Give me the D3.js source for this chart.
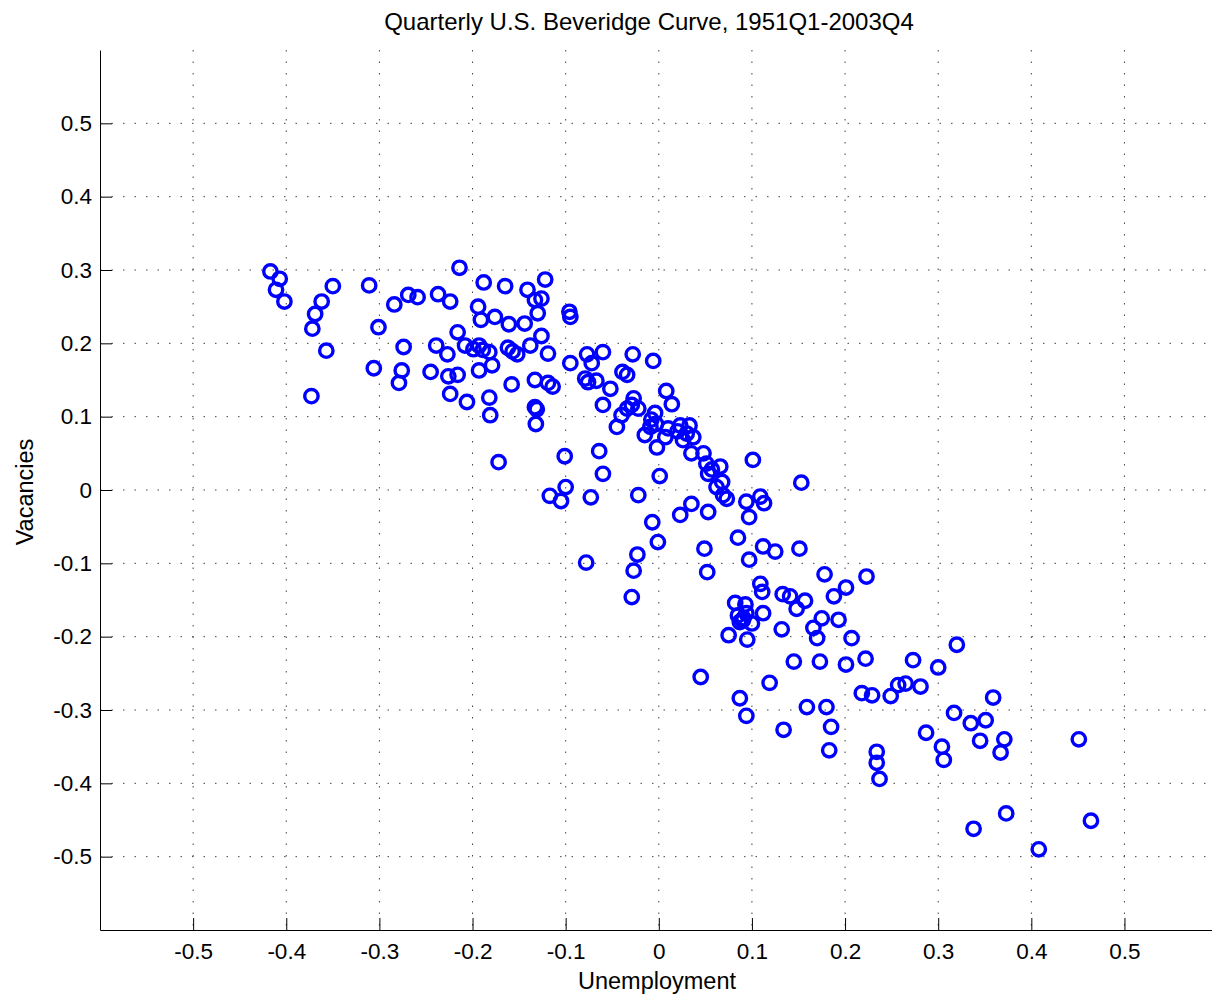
<!DOCTYPE html>
<html lang="en">
<head>
    <meta charset="UTF-8">
    <title>Quarterly U.S. Beveridge Curve</title>
    <style>
        body { margin: 0; background: #fff; }
        svg { display: block; font-family: 'Liberation Sans', Arial, Helvetica, sans-serif; }
        .tick text { font-size: 22.5px; fill: #000; }
        .grid line { stroke: #444; stroke-width: 1; stroke-dasharray: 1.5,10; }
        .pt { fill: none; stroke: #0000ff; stroke-width: 3.4; }
    </style>
    <script src="https://d3js.org/d3.v7.min.js"></script>
</head>
<body>
    <svg id="chart" width="1212" height="994"></svg>
    <script>
        // unemployment (x) and vacancies (y)
        const unemployment = [
            -0.417, -0.407, -0.411, -0.402, -0.350, -0.362, -0.369, -0.372, -0.357, -0.373,
            -0.311, -0.301, -0.306, -0.284, -0.269, -0.259, -0.237, -0.224, -0.214, -0.274,
            -0.276, -0.279, -0.245, -0.239, -0.227, -0.216, -0.208, -0.226, -0.216, -0.224,
            -0.206, -0.188, -0.165, -0.141, -0.122, -0.126, -0.133, -0.130, -0.194, -0.191,
            -0.176, -0.161, -0.144, -0.096, -0.095, -0.193, -0.189, -0.182, -0.199, -0.162,
            -0.157, -0.152, -0.138, -0.126, -0.119, -0.179, -0.193, -0.182, -0.158, -0.133,
            -0.119, -0.114, -0.133, -0.131, -0.181, -0.132, -0.095, -0.077, -0.072, -0.060,
            -0.028, -0.079, -0.076, -0.067, -0.052, -0.039, -0.034, -0.060, -0.006, 0.008,
            0.014, -0.027, -0.029, -0.022, -0.034, -0.040, -0.045, -0.004, -0.008, -0.015,
            -0.002, -0.009, 0.010, 0.007, 0.023, 0.033, 0.026, 0.037, 0.035, 0.030,
            0.048, 0.051, 0.066, 0.053, 0.068, 0.062, 0.069, 0.073, 0.101, 0.094,
            -0.101, -0.064, -0.060, 0.001, -0.100, -0.117, -0.105, -0.073, -0.022, 0.035,
            0.053, 0.023, -0.007, -0.172, -0.001, -0.078, -0.023, -0.027, -0.029, 0.153,
            0.109, 0.113, 0.097, 0.085, 0.112, 0.125, 0.151, 0.049, 0.097, 0.052,
            0.178, 0.223, 0.201, 0.188, 0.109, 0.111, 0.133, 0.141, 0.157, 0.148,
            0.082, 0.093, 0.085, 0.094, 0.087, 0.100, 0.091, 0.112, 0.175, 0.193,
            0.166, 0.132, 0.075, 0.095, 0.207, 0.170, 0.045, 0.119, 0.145, 0.173,
            0.201, 0.222, 0.218, 0.229, 0.249, 0.257, 0.087, 0.094, 0.159, 0.180,
            0.185, 0.134, 0.183, 0.234, 0.234, 0.237, 0.273, 0.320, 0.300, 0.265,
            0.281, 0.359, 0.317, 0.335, 0.351, 0.287, 0.345, 0.371, 0.367, 0.451,
            0.304, 0.306, 0.373, 0.338, 0.464, 0.408, 0.057, 0.090, -0.003, 0.020
        ];
        const vacancies = [
            0.298, 0.288, 0.273, 0.257, 0.278, 0.257, 0.240, 0.220, 0.190, 0.128,
            0.279, 0.222, 0.166, 0.253, 0.266, 0.263, 0.267, 0.257, 0.303, 0.195,
            0.163, 0.146, 0.161, 0.197, 0.185, 0.215, 0.197, 0.155, 0.157, 0.131,
            0.120, 0.283, 0.278, 0.273, 0.287, 0.261, 0.259, 0.241, 0.250, 0.232,
            0.236, 0.226, 0.227, 0.243, 0.236, 0.197, 0.191, 0.188, 0.192, 0.194,
            0.189, 0.185, 0.197, 0.210, 0.186, 0.170, 0.163, 0.126, 0.144, 0.150,
            0.146, 0.141, 0.113, 0.110, 0.102, 0.090, 0.173, 0.185, 0.173, 0.188,
            0.185, 0.152, 0.147, 0.149, 0.138, 0.161, 0.157, 0.116, 0.176, 0.135,
            0.117, 0.125, 0.116, 0.111, 0.111, 0.102, 0.086, 0.105, 0.096, 0.075,
            0.058, 0.086, 0.084, 0.072, 0.088, 0.088, 0.068, 0.072, 0.050, 0.077,
            0.050, 0.036, 0.032, 0.022, 0.011, 0.004, -0.007, -0.012, 0.041, -0.016,
            0.046, 0.053, 0.022, 0.019, 0.004, -0.008, -0.015, -0.010, -0.007, -0.019,
            -0.030, -0.034, -0.044, 0.038, -0.071, -0.099, -0.088, -0.110, -0.146, 0.010,
            -0.009, -0.018, -0.037, -0.065, -0.077, -0.084, -0.080, -0.080, -0.095, -0.112,
            -0.115, -0.118, -0.133, -0.145, -0.128, -0.139, -0.142, -0.145, -0.151, -0.162,
            -0.154, -0.156, -0.171, -0.168, -0.180, -0.182, -0.175, -0.168, -0.175, -0.177,
            -0.188, -0.190, -0.198, -0.204, -0.202, -0.202, -0.255, -0.263, -0.234, -0.234,
            -0.238, -0.230, -0.277, -0.280, -0.281, -0.266, -0.284, -0.308, -0.296, -0.296,
            -0.323, -0.327, -0.355, -0.357, -0.372, -0.394, -0.232, -0.211, -0.242, -0.264,
            -0.268, -0.283, -0.304, -0.318, -0.314, -0.331, -0.342, -0.340, -0.358, -0.340,
            -0.350, -0.368, -0.441, -0.462, -0.451, -0.490, 0.028, -0.178, 0.090, 0.080
        ];

        const xTicks = [-0.5, -0.4, -0.3, -0.2, -0.1, 0, 0.1, 0.2, 0.3, 0.4, 0.5];
        const yTicks = [-0.5, -0.4, -0.3, -0.2, -0.1, 0, 0.1, 0.2, 0.3, 0.4, 0.5];
        const xTickLabels = ["-0.5", "-0.4", "-0.3", "-0.2", "-0.1", "0", "0.1", "0.2", "0.3", "0.4", "0.5"];
        const yTickLabels = ["-0.5", "-0.4", "-0.3", "-0.2", "-0.1", "0", "0.1", "0.2", "0.3", "0.4", "0.5"];

        const svg = d3.select("#chart");
        const plotLeft = 100, plotTop = 50, plotBottom = 930, plotRight = 1217.6;

        const x = d3.scaleLinear().domain([-0.6, 0.6]).range([plotLeft, plotRight]);
        const y = d3.scaleLinear().domain([-0.6, 0.6]).range([plotBottom, plotTop]);

        // dotted grid
        const grid = svg.append("g").attr("class", "grid");
        grid.selectAll(".gx").data(xTicks).enter().append("line")
            .attr("x1", d => x(d)).attr("x2", d => x(d))
            .attr("y1", plotTop).attr("y2", plotBottom);
        grid.selectAll(".gy").data(yTicks).enter().append("line")
            .attr("y1", d => y(d)).attr("y2", d => y(d))
            .attr("x1", plotLeft).attr("x2", plotRight);

        // axes, ticks pointing inwards
        const xAxis = d3.axisBottom(x)
            .tickValues(xTicks)
            .tickFormat((d, i) => xTickLabels[i])
            .tickSizeInner(-12).tickSizeOuter(0).tickPadding(13);
        const yAxis = d3.axisLeft(y)
            .tickValues(yTicks)
            .tickFormat((d, i) => yTickLabels[i])
            .tickSizeInner(-12).tickSizeOuter(0).tickPadding(8);

        const gx = svg.append("g").attr("transform", `translate(0,${plotBottom})`).call(xAxis);
        const gy = svg.append("g").attr("transform", `translate(${plotLeft},0)`).call(yAxis);
        [gx, gy].forEach(g => {
            g.attr("font-family", null).attr("font-size", null);
            g.selectAll("path, line").attr("stroke", "#000").attr("stroke-width", 1);
        });

        // markers
        svg.append("g").selectAll("circle")
            .data(unemployment.map((u, i) => [u, vacancies[i]]))
            .enter().append("circle")
            .attr("class", "pt")
            .attr("cx", d => x(d[0]))
            .attr("cy", d => y(d[1]))
            .attr("r", 6.7);

        // labels
        svg.append("text")
            .attr("x", 649).attr("y", 30)
            .attr("text-anchor", "middle")
            .attr("font-size", "24px")
            .text("Quarterly U.S. Beveridge Curve, 1951Q1-2003Q4");

        svg.append("text")
            .attr("x", 657).attr("y", 989)
            .attr("text-anchor", "middle")
            .attr("font-size", "23.5px")
            .text("Unemployment");

        svg.append("text")
            .attr("transform", "translate(32.5,492) rotate(-90)")
            .attr("text-anchor", "middle")
            .attr("font-size", "23.5px")
            .text("Vacancies");
    </script>
</body>
</html>
